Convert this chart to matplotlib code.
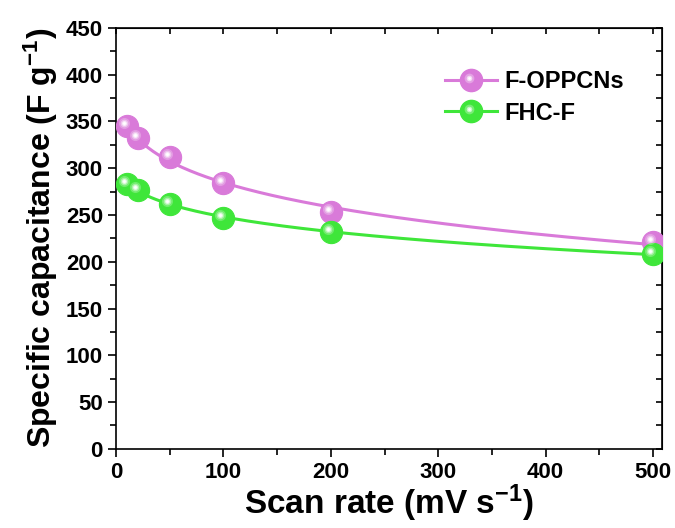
import matplotlib
matplotlib.use("Agg")
import matplotlib.pyplot as plt
import matplotlib.transforms as mtransforms
import numpy as np
from matplotlib.ticker import MultipleLocator
from matplotlib.lines import Line2D
from matplotlib.legend_handler import HandlerLine2D

plt.rcParams['font.family'] = ['Liberation Sans', 'DejaVu Sans']
plt.rcParams['font.weight'] = 'bold'
plt.rcParams['mathtext.default'] = 'regular'

# data
scan_rate = [10, 20, 50, 100, 200, 500]
oppcns = [345, 332, 312, 284, 253, 221]
fhcf = [283, 277, 262, 247, 232, 208]

names = ['F-OPPCNs', 'FHC-F']
colors = ['#d97ad9', '#3fe63a']


def fit_curve(x, y):
    # smooth fit in log(x), like the fitted lines in the original
    lx = np.log(np.array(x, dtype=float))
    c = np.polyfit(lx, y, 2)
    xs = np.linspace(min(x), max(x), 200)
    return xs, np.polyval(c, np.log(xs))


class ShinyHandler(HandlerLine2D):
    # legend entry: line + ball, plus a white highlight on the ball
    def create_artists(self, legend, orig_handle, xdescent, ydescent,
                       width, height, fontsize, trans):
        arts = super().create_artists(legend, orig_handle, xdescent, ydescent,
                                      width, height, fontsize, trans)
        xm = width / 2 - xdescent - 1.5
        ym = height / 2 - ydescent + 1.5
        for size, a in [(7, 0.3), (4, 0.6), (2, 1.0)]:
            d = Line2D([xm], [ym], ls='none', marker='o', ms=size, color='white',
                       alpha=a, mew=0)
            d.set_transform(trans)
            arts.append(d)
        return arts


fig, ax = plt.subplots(figsize=(6.75, 5.28), dpi=100)
fig.subplots_adjust(left=0.172, right=0.98, top=0.947, bottom=0.15)

# shifted transform for the sphere highlight
shine = mtransforms.offset_copy(ax.transData, fig=fig, x=-2.2, y=2.2, units='points')


def sphere(axis, x, y, col, ms, trans_hl):
    axis.plot(x, y, 'o', ms=ms, color=col, mec=col, mew=0.8, zorder=3)
    for size, a in [(8, 0.25), (5.5, 0.4), (3.5, 0.7), (2, 1.0)]:
        axis.plot(x, y, 'o', ms=size, color='white', alpha=a, mew=0, zorder=4,
                  transform=trans_hl)


handles = []
for yv, col, name in zip([oppcns, fhcf], colors, names):
    xs, ys = fit_curve(scan_rate, yv)
    ax.plot(xs, ys, color=col, lw=2.2, zorder=2)
    sphere(ax, scan_rate, yv, col, 16, shine)
    handles.append(Line2D([0], [0], color=col, lw=2.2, marker='o', ms=16, mec=col))

ax.set_xlim(0, 508)
ax.set_ylim(0, 450)
ax.xaxis.set_major_locator(MultipleLocator(100))
ax.xaxis.set_minor_locator(MultipleLocator(50))
ax.yaxis.set_major_locator(MultipleLocator(50))
ax.yaxis.set_minor_locator(MultipleLocator(25))

ax.tick_params(which='both', direction='out', width=1.2, labelsize=16)
ax.tick_params(which='major', length=6)
ax.tick_params(which='minor', length=4)

# top and right ticks point inward
sec_x = ax.secondary_xaxis('top')
sec_x.set_xticks(np.arange(0, 501, 50))
sec_x.tick_params(direction='in', length=4, width=1.2, labeltop=False)
sec_y = ax.secondary_yaxis('right')
sec_y.set_yticks(np.arange(0, 451, 25))
sec_y.tick_params(direction='in', length=4, width=1.2, labelright=False)

for s in ax.spines.values():
    s.set_linewidth(1.2)

ax.set_xlabel('Scan rate (mV s$^{-1}$)', fontsize=24, fontweight='bold', labelpad=0)
ax.set_ylabel('Specific capacitance (F g$^{-1}$)', fontsize=23, fontweight='bold', labelpad=4)

ax.legend(handles, names, loc='upper right', bbox_to_anchor=(0.97, 0.95), frameon=False,
          fontsize=17, handlelength=2.2, handletextpad=0.3, labelspacing=0.35,
          handler_map={Line2D: ShinyHandler()})

fig.savefig('out.png', dpi=100)
